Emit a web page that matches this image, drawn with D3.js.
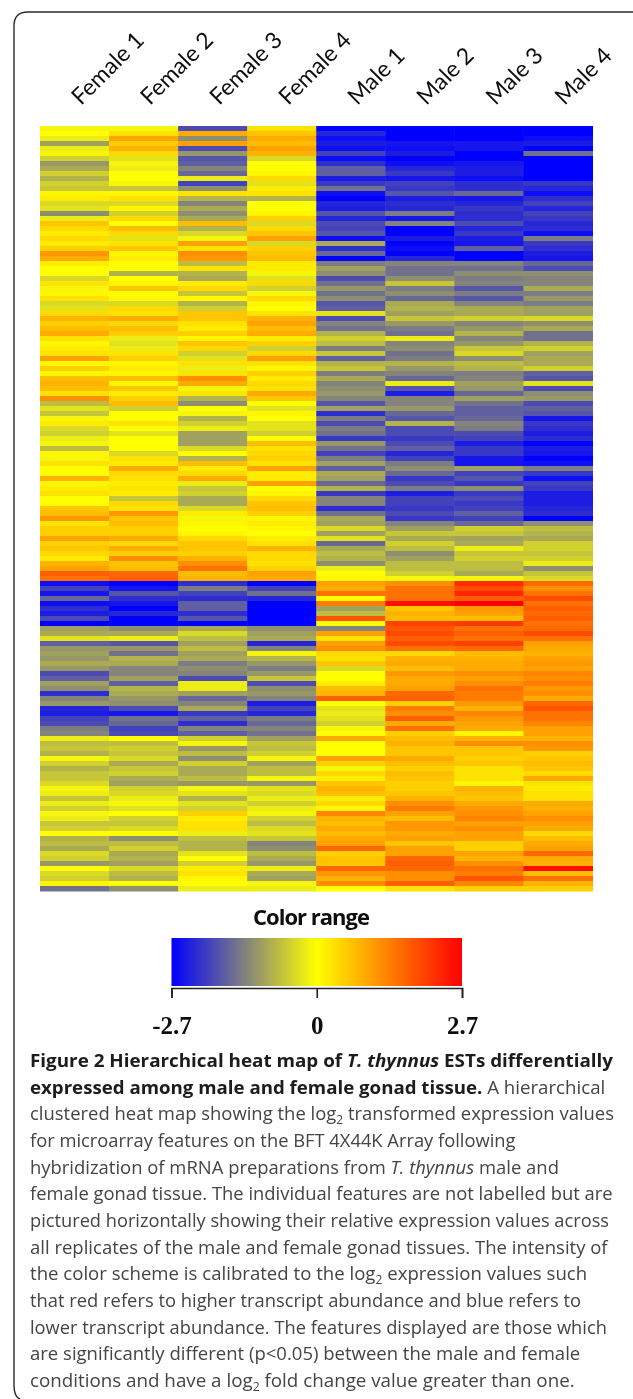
<!DOCTYPE html>
<html><head><meta charset="utf-8">
<script src="https://cdnjs.cloudflare.com/ajax/libs/d3/7.8.5/d3.min.js"></script>
<style>html,body{margin:0;padding:0;background:#fff;overflow:hidden}svg{display:block}</style>
</head><body><div id="c"></div>
<script>
const samples = ["Female 1","Female 2","Female 3","Female 4","Male 1","Male 2","Male 3","Male 4"];
const female1 = [-0.1,0,-0.2,-1.0,-0.2,-0.1,-0.5,-1.1,-0.9,-0.5,-0.8,-0.5,-0.6,0.1,0.2,-0.4,-0.3,-1.2,-0.2,0.6,0.4,0.2,0.4,0.2,0.5,1.1,0.9,0.2,0,0,-0.4,0.3,-0.1,0.1,0.3,-0.4,-0.3,0.4,0.8,0.5,0.7,0.9,0.3,0.1,0.2,0.3,1.0,0.1,0.5,0.1,0.7,
0.8,0.7,0.3,1.2,-0.7,-0.3,-0.6,-0.1,0.2,-0.4,-0.5,-0.2,-0.1,-0.7,0.1,-0.1,0.3,0,0,0.8,0.1,0.2,0.3,0,0,0.6,0.7,1.1,0.3,0.5,0.5,1.0,0.5,0.6,0.4,0.2,0.8,1.0,1.7,1.5,-2.6,-2.0,-2.5,-1.6,-2.6,-2.2,-2.4,-1.9,-2.7,-1.0,-0.9,-0.3,
-1.7,-1.1,-1.0,-1.1,-0.9,-1.1,-1.9,-1.7,-1.0,-1.2,-2.2,-1.3,-1.1,-2.3,-2.4,-2.0,-1.9,-1.4,-1.3,-0.2,-0.7,-0.6,-0.8,-0.1,-0.5,-0.8,-0.6,-0.6,-0.4,-0.1,-0.2,-0.6,-0.2,-0.5,-0.1,-0.2,-0.6,-0.5,0,-0.8,-0.7,-0.9,-0.4,-0.5,-1.1,0,-0.4,-0.5,0.1,-1.5];
const female2 = [-0.1,0.3,0.95,0.5,0.8,0.4,-0.3,-0.1,-0.2,0,0,-0.1,-0.6,0.1,0.3,-0.4,0.1,-0.5,0.4,0,0.7,0.4,-0.3,0.3,0.6,0.1,0.2,0,0,-0.8,0,0.1,0.6,0,0.1,-0.4,0.4,0.3,0.9,0.4,0.7,0.5,-0.2,-0.3,-0.2,0.3,0.5,0.1,0.2,0.1,0.7,
0.1,0.6,0.2,0.5,0.7,-0.5,0,0,0.3,0,-0.3,0,0,0,-0.4,0.3,0.2,0.9,0.4,0.3,0.2,0.3,0.2,-0.6,0.4,0.3,1.1,0.6,0.7,0.5,0.5,0.9,0.4,0.9,0.5,1.2,0.6,0.7,1.6,1.7,-2.7,-2.5,-1.8,-2.2,-2.5,-2.7,-2.3,-2.7,-2.7,-1.2,-0.9,-0.2,
-1.8,-1.1,-1.5,-0.8,-0.9,-1.3,-1.3,-1.0,-1.7,-0.8,-0.9,-1.1,-1.2,-1.9,-2.5,-1.5,-1.6,-2.0,-1.9,0,-0.7,-0.5,-0.6,-0.4,-0.9,-0.6,-0.5,-0.9,-1.0,-0.5,-0.4,-0.2,-0.1,-0.3,0,-0.5,-0.6,-0.4,0,-1.2,-0.7,-0.5,-0.9,-0.8,-1.0,-0.4,-0.7,-0.8,0,-1.2];
const female3 = [-1.9,0.9,-1.2,1.0,-1.9,-1.1,-1.8,-1.7,-1.3,-1.6,-0.2,-2.0,-1.2,0.3,-0.8,-1.3,-0.9,-1.2,-0.9,0.7,-0.8,-0.4,-0.1,1.0,0.3,1.2,1.1,-0.7,0.3,-0.8,-0.9,0.2,0.4,-0.6,0.1,-0.8,-0.5,0.6,0.6,0.3,0.2,0.5,0.1,0.6,0.4,-0.5,-0.3,0.3,-0.2,0.3,1.2,
0.9,-0.1,0.3,-0.8,-1.2,0,-0.1,-0.8,-0.5,-0.2,-1.0,-1.0,-1.0,-0.4,0,-0.8,0.7,0.2,0.4,0.9,-0.2,-0.6,-0.5,-0.9,-0.9,-0.4,0.2,-0.1,0.1,0,0.1,0.4,0.6,0.6,0.5,0.8,1.2,1.5,0.7,0.8,-2.2,-1.4,-2.0,-2.2,-1.7,-1.7,-2.2,-1.8,-2.7,-0.9,-0.4,-0.7,
-1.0,-0.7,-1.0,-0.9,-1.4,-1.2,-1.3,-1.9,-0.2,-0.2,-1.0,-1.6,-1.3,-0.9,-2.1,-1.7,-2.2,-1.3,-1.7,-0.5,-0.1,-1.1,-0.7,-1.2,-0.5,-0.9,-0.9,-0.7,-1.1,-0.1,-0.3,-0.8,-0.3,-0.5,0.5,0.2,0.3,0.3,-0.2,-0.7,-0.8,-0.8,-0.3,0,-0.5,0.2,0.3,0.1,0,-0.2];
const female4 = [0.3,0.6,0.9,0.7,1.0,0.8,-0.4,0,0,0.1,0.4,-0.3,0.2,0.3,-0.8,0,0,0.1,0.5,-0.4,0.4,0.6,1.0,-0.4,0.5,0.6,0.7,0.2,0.2,-0.1,-0.3,0.4,-0.5,-0.1,0.4,0.1,0,0.3,0.8,1.0,0.7,0.9,0.2,0.5,-0.5,0.4,1.0,0.3,0.1,0.5,0.2,
0.4,0.3,0.9,0.6,0,-0.3,0.1,0,-0.3,-0.3,-0.5,0,0.7,0.3,0.4,0.5,0.3,1.0,0.2,0.2,1.0,0,0.1,0.4,0.6,0.7,0.5,0.1,0.2,0.1,0,0.2,0.3,0.8,0.4,0.4,0.3,0.5,1.0,0.9,-2.7,-2.0,-1.5,-2.3,-2.7,-2.7,-2.7,-2.7,-2.7,-1.2,-1.0,-0.9,
-2.3,-1.3,-0.1,-0.8,-1.1,-1.4,-1.1,-0.6,-1.9,-1.2,-1.1,-1.3,-2.4,-2.0,-2.3,-1.4,-1.6,-1.3,-1.5,-1.0,-0.6,-0.7,-0.5,-0.1,-1.0,-0.7,-0.7,-0.1,-1.1,-0.3,-0.4,-0.2,-0.5,-0.2,-0.1,-0.5,-0.7,-0.4,-0.3,-0.6,-1.3,-1.2,-0.7,-0.9,-1.1,-0.2,-0.9,-1.0,-0.1,-0.2];
const male1 = [-2.7,-2.3,-2.6,-2.4,-2.6,-2.0,-2.6,-2.2,-1.7,-1.7,-2.4,-2.1,-1.5,-2.6,-2.7,-2.3,-2.4,-1.8,-2.3,-1.9,-2.0,-1.8,-2.6,-0.9,-2.2,-1.6,-2.7,-1.4,-1.0,-1.2,-1.9,-1.5,-1.1,-1.5,-1.2,-1.8,-1.7,-0.3,-1.9,-1.3,-1.5,-0.8,-0.5,-0.7,-1.4,-0.6,-1.7,-0.8,-0.6,-1.4,-0.9,
-1.3,-1.2,-1.1,-1.3,-1.8,-1.0,-2.2,-1.4,-1.9,-1.4,-1.5,-2.1,-1.1,-1.5,-2.0,-1.4,-1.0,-1.7,-0.9,-1.0,-1.6,-0.8,-2.1,-1.3,-1.3,-2.2,-1.5,-0.9,-1.0,-0.4,-1.0,-0.3,-1.6,-0.9,-0.7,-0.8,-1.2,-0.2,0,0.1,1.0,0.9,1.5,0,1.4,-1.0,-0.7,1.8,0,-1.3,1.0,0.3,
1.0,1.2,0.4,0.3,0.6,-0.4,0,0,0.2,0.7,0.8,1.7,0,-0.3,-0.2,-0.3,-0.5,-0.1,0,0.9,0,0,0,1.0,0.5,-0.1,0.4,0.2,0.6,0.8,0.7,0.2,0.4,0.1,1.3,0.8,0.7,0.9,0.7,0.9,1.0,1.6,0.5,0.6,0.6,1.6,1.1,0.8,1.2,0];
const male2 = [-2.7,-2.7,-2.7,-2.5,-2.6,-2.4,-2.7,-2.6,-2.3,-2.1,-2.5,-2.0,-2.1,-1.8,-2.4,-2.2,-2.3,-1.4,-2.5,-1.3,-2.7,-2.7,-2.4,-2.7,-2.6,-2.7,-2.3,-1.3,-1.5,-1.5,-1.2,-0.6,-1.4,-1.2,-1.6,-0.9,-0.8,-1.0,-0.6,-1.1,-1.4,-1.5,-0.2,-1.3,-1.2,-1.5,-1.4,-0.8,-1.1,-1.3,-1.6,
-0.2,-1.8,-2.4,-1.3,-1.3,-1.1,-1.6,-1.8,-0.8,-1.9,-1.9,-2.1,-1.9,-1.7,-2.3,-2.0,-1.4,-1.2,-1.6,-2.1,-1.9,-1.4,-2.4,-2.0,-2.0,-2.1,-1.9,-2.1,-1.3,-1.0,-0.6,-0.9,-0.5,-0.7,-1.2,-1.0,-0.7,-0.7,-0.5,-0.1,1.2,1.5,1.5,1.5,2.6,0.6,0.8,0.7,2.0,1.8,1.9,1.7,
1.9,1.5,0.4,0.8,0.9,0.7,1.1,0.9,0.9,1.0,1.6,1.7,0.5,1.4,1.2,1.7,0.9,1.5,0.5,0.7,0.8,0.6,0.6,0.9,0.7,0.5,0.7,0.6,0.5,0.5,0.6,0.8,1.2,1.4,1.0,0.7,1.1,1.1,0.9,1.0,0.6,1.0,1.0,1.6,1.7,1.6,1.2,1.2,1.7,0.3];
const male3 = [-2.7,-2.7,-2.7,-2.5,-2.5,-2.7,-2.7,-2.5,-2.4,-2.4,-2.6,-2.2,-2.2,-1.6,-2.5,-2.3,-2.1,-2.2,-2.2,-1.9,-2.3,-2.1,-2.4,-2.5,-1.7,-2.7,-2.7,-1.3,-1.5,-1.2,-1.4,-1.3,-1.8,-1.4,-1.8,-1.3,-0.9,-0.9,-0.5,-1.3,-1.1,-0.8,-1.3,-1.1,-0.6,-0.4,-1.2,-0.7,-0.8,-1.4,-1.3,
-1.0,-1.1,-1.6,-1.0,-1.5,-1.7,-1.7,-1.6,-1.3,-1.4,-1.9,-2.0,-2.4,-2.1,-2.1,-2.5,-2.5,-1.0,-2.0,-1.8,-2.1,-1.2,-2.1,-1.9,-2.1,-2.0,-1.7,-2.0,-1.6,-0.5,-0.6,-1.0,-0.9,-0.2,-0.6,-0.5,-0.7,-0.7,-0.9,-0.1,2.2,1.9,2.3,1.7,2.7,1.1,1.0,0.7,2.1,1.5,1.7,1.5,
2.0,1.6,0.7,0.8,0.9,0.9,1.2,1.0,1.2,1.5,1.4,1.4,1.1,0.8,1.3,1.1,1.0,0.9,0.1,0.8,1.2,0.6,0.6,0.5,0.6,0.3,0.3,0.3,0.1,0.8,0.7,0.6,0.9,1.1,1.2,1.3,1.0,1.2,1.0,1.0,0.5,0.5,1.0,0.8,1.2,1.5,1.4,1.8,1.3,0.5];
const male4 = [-2.7,-2.7,-2.6,-2.4,-2.7,-1.5,-2.7,-2.7,-2.7,-2.7,-2.7,-2.1,-2.3,-2.6,-2.2,-2.0,-2.3,-2.0,-2.1,-2.3,-2.2,-2.6,-1.4,-2.1,-2.2,-2.4,-2.5,-1.6,-1.9,-1.2,-1.3,-1.3,-0.9,-1.4,-1.1,-1.4,-1.0,-1.0,-0.4,-1.2,-0.9,-1.5,-1.5,-0.8,-0.5,-1.0,-0.9,-0.9,-0.5,-1.7,-1.8,
-0.3,-1.9,-1.2,-1.1,-1.9,-1.7,-1.8,-2.5,-2.1,-2.2,-2.4,-2.2,-2.7,-2.4,-2.5,-2.7,-2.6,-1.4,-2.1,-2.6,-2.0,-2.1,-2.4,-2.4,-2.4,-2.3,-2.2,-2.7,-1.2,-0.7,-0.8,-0.9,-0.5,-0.5,-0.6,-0.5,-0.2,-1.2,-0.6,-0.4,1.6,1.2,1.5,1.9,1.5,1.7,1.6,1.7,1.5,1.6,1.9,1.5,
1.0,0.9,0.8,1.0,1.1,1.0,1.3,1.2,1.4,1.1,1.2,0.9,1.6,1.8,1.5,1.5,1.3,1.0,1.0,0.8,1.2,1.1,0.5,0.6,0.7,0.6,0.4,0.9,0.3,0.2,0.3,0.3,0.9,0.8,1.0,1.2,1.0,0.9,0.4,0.7,0.9,1.0,1.6,0.9,0.8,2.6,0.7,1.5,0.8,0.5];
const columns = [female1,female2,female3,female4,male1,male2,male3,male4];
const legendTicks = [-2.7,0,2.7];
const legendLabels = ["-2.7","0","2.7"];
const captionLines = [
 [["Figure 2 Hierarchical heat map of ","b"],["T. thynnus","bi"],[" ESTs differentially","b"]],
 [["expressed among male and female gonad tissue. ","b"],["A hierarchical","r"]],
 [["clustered heat map showing the log","r"],["2","s"],[" transformed expression values","r"]],
 [["for microarray features on the BFT 4X44K Array following","r"]],
 [["hybridization of mRNA preparations from ","r"],["T. thynnus","i"],[" male and","r"]],
 [["female gonad tissue. The individual features are not labelled but are","r"]],
 [["pictured horizontally showing their relative expression values across","r"]],
 [["all replicates of the male and female gonad tissues. The intensity of","r"]],
 [["the color scheme is calibrated to the log","r"],["2","s"],[" expression values such","r"]],
 [["that red refers to higher transcript abundance and blue refers to","r"]],
 [["lower transcript abundance. The features displayed are those which","r"]],
 [["are significantly different (p<0.05) between the male and female","r"]],
 [["conditions and have a log","r"],["2","s"],[" fold change value greater than one.","r"]]
];
const captionRight = [613.6,605.6,614.4,516,559,612.8,609.6,607.6,587.4,581.4,607.6,580.6,575.3];

const W=633,H=1399;
const svg=d3.select("#c").append("svg").attr("width",W).attr("height",H);
const defs=svg.append("defs");
defs.append("filter").attr("id","bh").attr("x","-2%").attr("y","-2%").attr("width","104%").attr("height","104%")
  .append("feGaussianBlur").attr("stdDeviation","0.5 0.75");
defs.append("filter").attr("id","bt").attr("x","-5%").attr("y","-5%").attr("width","110%").attr("height","110%")
  .append("feGaussianBlur").attr("stdDeviation","0.35");

svg.append("path").attr("d",`M${W+20},12 H28 Q14,12 14,26 V1385 Q14,1397 20,1399`)
  .attr("fill","none").attr("stroke","#2b2b2b").attr("stroke-width",1.4);

const color=d3.scaleLinear().domain([-2.7,0,2.7]).range(["#0000ff","#ffff00","#ff0000"]).interpolate(d3.interpolateRgb);
const x=d3.scaleBand().domain(samples).range([40,592.5]);
const nRows=d3.max(columns,c=>c.length);
const y=d3.scaleBand().domain(d3.range(nRows)).range([126,891]);

const hm=svg.append("g").attr("filter","url(#bh)");
hm.selectAll("g").data(columns).join("g").each(function(col,ci){
  d3.select(this).selectAll("rect").data(col).join("rect")
    .attr("x",x(samples[ci])).attr("width",x.bandwidth()+0.5)
    .attr("y",(d,i)=>y(i)).attr("height",y.bandwidth()+0.5)
    .attr("fill",d=>color(d));
});

svg.append("g").attr("filter","url(#bt)").selectAll("text").data(samples).join("text")
  .attr("transform",d=>`translate(${x(d)+41},106) rotate(-45)`)
  .attr("font-family","Lato").attr("font-size",23).attr("fill","#111").text(d=>d);

const lx=d3.scaleLinear().domain([-2.7,2.7]).range([171.5,462]);
const grad=defs.append("linearGradient").attr("id","lg");
d3.range(0,1.0001,0.05).forEach(t=>grad.append("stop").attr("offset",t).attr("stop-color",color(-2.7+5.4*t)));
svg.append("rect").attr("x",lx(-2.7)).attr("y",938).attr("width",lx(2.7)-lx(-2.7)).attr("height",48).attr("fill","url(#lg)");
svg.append("text").attr("x",311).attr("y",925).attr("text-anchor","middle").attr("filter","url(#bt)")
  .attr("font-family","Open Sans").attr("font-weight",700).attr("font-size",22).attr("letter-spacing",-1).attr("fill","#111").text("Color range");
const ax=svg.append("g").attr("transform","translate(0,988)")
  .call(d3.axisBottom(lx).tickValues(legendTicks).tickFormat((d,i)=>legendLabels[i]).tickSize(10).tickPadding(18));
ax.selectAll("path,line").attr("stroke","#222").attr("stroke-width",1.6);
ax.selectAll("text").attr("font-family","Liberation Serif").attr("font-weight",700).attr("font-size",25).attr("fill","#111").attr("filter","url(#bt)");

const styles={b:{w:700,st:"normal",f:"#1c1c1c"},bi:{w:700,st:"italic",f:"#1c1c1c"},r:{w:400,st:"normal",f:"#444"},i:{w:400,st:"italic",f:"#444"},s:{w:400,st:"normal",f:"#444"}};
const cap=svg.append("g").attr("filter","url(#bt)");
captionLines.forEach((line,li)=>{
  const by=1067+li*26.67;
  const t=cap.append("text").attr("transform",`translate(30,${by})`).attr("font-family","Open Sans").attr("font-size",18.5);
  line.forEach((seg,si)=>{
    const st=styles[seg[1]];
    const ts=t.append("tspan").attr("font-weight",st.w).attr("font-style",st.st).attr("fill",st.f).text(seg[0]);
    if(seg[1]==="s"){ts.attr("font-size",12).attr("dy",4);}
    else if(si>0 && line[si-1][1]==="s"){ts.attr("dy",-4);}
  });
  const w=t.node().getComputedTextLength();
  t.attr("transform",`translate(30,${by}) scale(${(captionRight[li]-30)/w},1)`);
});
</script></body></html>
